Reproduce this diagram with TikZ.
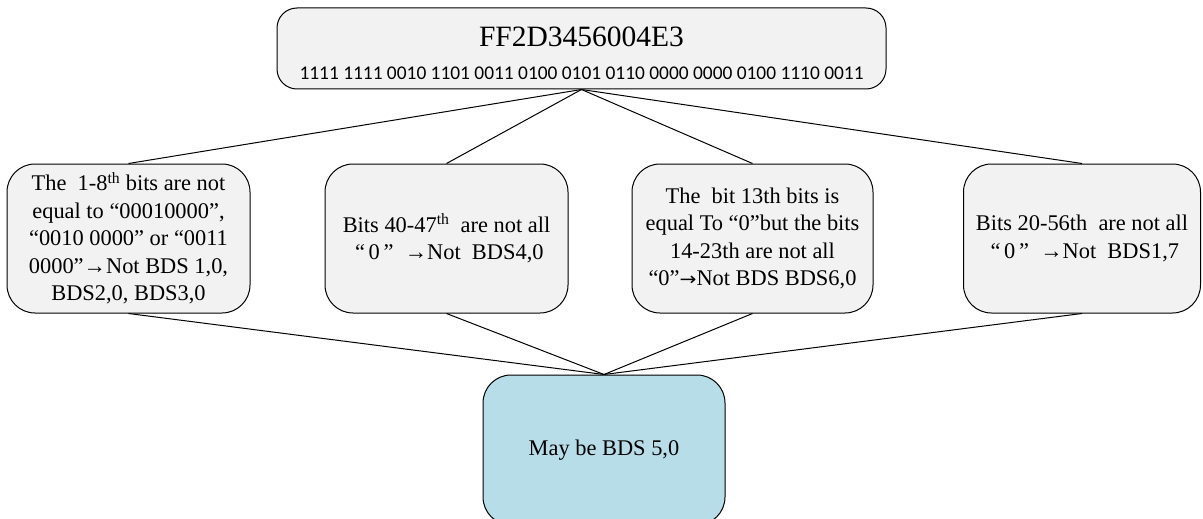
\documentclass[tikz,border=0pt]{standalone}
\usepackage{fontspec}
\usepackage{graphicx}
\setmainfont{Liberation Serif}
\newfontfamily\binfont{Carlito}
\newfontfamily\arrowfont{DejaVu Sans}
\usetikzlibrary{positioning, calc, shapes}
\definecolor{BoxGray}{RGB}{242,242,242}
\definecolor{BoxBlue}{RGB}{183,221,232}
\newcommand{\shortarrow}{→}
\newcommand{\longarrow}{{\arrowfont\scalebox{0.9}[0.8]{→}}}

\begin{document}
\begin{tikzpicture}[x=1pt,y=-1pt,
    roundbox/.style={draw, line width=1pt, rounded corners=28pt, fill=BoxGray, align=center,
        inner sep=0pt, minimum height=149pt, font=\fontsize{22.4}{27.5}\selectfont},
    link/.style={line width=1pt}]
    \useasboundingbox (0,0) rectangle (1203,519);
    % decoded word
    \node[roundbox, rounded corners=20pt, minimum width=609pt, minimum height=81pt,
        font=\fontsize{29.5}{33}\selectfont] (word) at (581.5,48.5)
        {\rule{0pt}{29pt}FF2D3456004E3\\{\binfont\fontsize{19.4}{22}\selectfont 1111 1111 0010 1101 0011 0100 0101 0110 0000 0000 0100 1110 0011}};
    % tests
    \node[roundbox, minimum width=243pt] (bds1) at (128.5,238.5)
        {The~~1-8\textsuperscript{th} bits are not\\equal to “00010000”,\\“0010 0000” or “0011\\0000”\shortarrow Not BDS 1,0,\\BDS2,0, BDS3,0};
    \node[roundbox, minimum width=243pt] (bds4) at (446.5,238.5)
        {Bits 40-47\textsuperscript{th}~~are not all\\~“\,0\,”~~\shortarrow Not~~BDS4,0};
    \node[roundbox, minimum width=241pt] (bds6) at (752.5,238.5)
        {The~~bit 13th bits is\\equal To “0”but the bits\\14-23th are not all\\“0”\longarrow Not BDS BDS6,0};
    \node[roundbox, minimum width=237pt] (bds17) at (1082,238.5)
        {Bits 20-56th~~are not all\\~“\,0\,”~~\shortarrow Not~~BDS1,7};
    % result
    \node[roundbox, fill=BoxBlue, minimum width=242pt, minimum height=150pt] (may) at (604,450)
        {May be BDS 5,0};
    \foreach \t in {bds1,bds4,bds6,bds17}
    {
        \draw[link] (word.south) -- (\t.north);
        \draw[link] (\t.south) -- (may.north);
    }
\end{tikzpicture}
\end{document}
